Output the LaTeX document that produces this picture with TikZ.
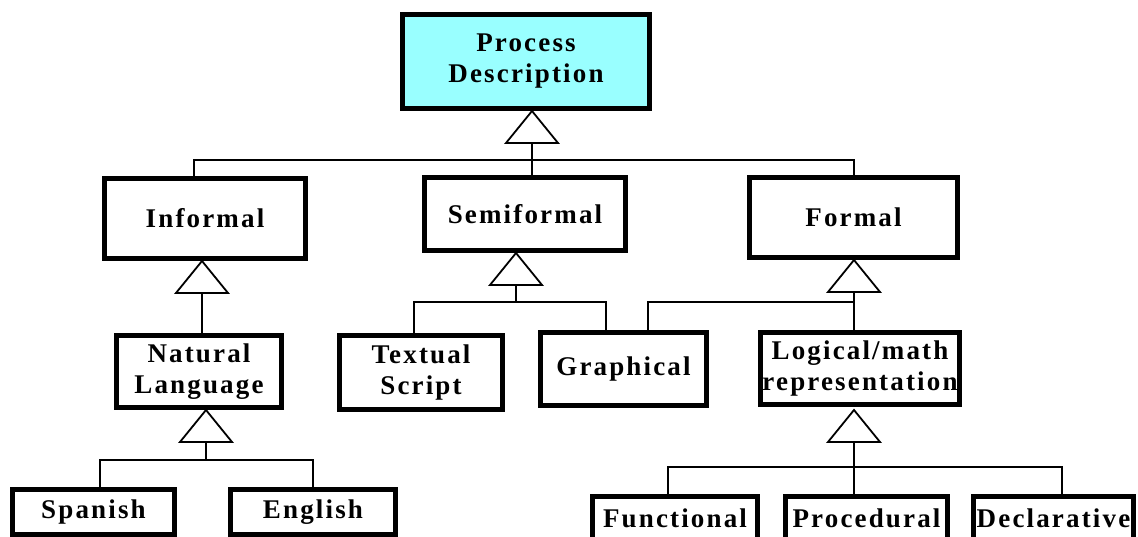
\documentclass[tikz,border=0pt]{standalone}
\usepackage{fontspec}
\setmainfont{Liberation Serif}
\newfontfamily\boxfont[LetterSpace=8]{Liberation Serif}
\usepackage{xcolor}
\usepackage{tikz}
\definecolor{topfill}{RGB}{153,255,255}

\begin{document}
\begin{tikzpicture}[
			x=1pt, y=-1pt,
			box/.style={rectangle, draw, line width=5pt, fill=white, align=center, inner sep=0pt, font=\boxfont\bfseries\fontsize{27}{31}\selectfont},
			leaf/.style={box, text height=31.5pt, text depth=30pt},
			conn/.style={line width=1.8pt},
			gen/.style={line width=1.8pt, fill=white}
			]
			\useasboundingbox (0,0) rectangle (1138,537);
			\clip (0,0) rectangle (1138,537);
			
			% Level 1
			\node[box, fill=topfill, minimum width=247pt, minimum height=94pt] (proc) at (526,61.5) {Process\\Description};
			
			% Level 2
			\node[box, minimum width=201pt, minimum height=80pt] (informal) at (205,218.5) {Informal};
			\node[box, minimum width=201pt, minimum height=73pt] (semi) at (525,214) {Semiformal};
			\node[box, minimum width=208pt, minimum height=80pt] (formal) at (853.5,217.5) {Formal};
			
			% Level 3
			\node[box, minimum width=165pt, minimum height=72pt] (natlang) at (199,371.5) {Natural\\Language};
			\node[box, minimum width=163pt, minimum height=74pt] (textual) at (421,372.5) {Textual\\Script};
			\node[box, minimum width=166pt, minimum height=73pt] (graph) at (623.5,369) {Graphical};
			\node[box, minimum width=199pt, minimum height=72pt] (logical) at (860,368.5) {Logical/math\\representation};
			
			% Level 4
			\node[box, minimum width=162pt, minimum height=45pt] (spanish) at (93.5,512) {Spanish};
			\node[box, minimum width=165pt, minimum height=45pt] (english) at (313,512) {English};
			\node[leaf, minimum width=165pt, anchor=north] (functional) at (675,493.5) {Functional};
			\node[leaf, minimum width=162pt, anchor=north] (procedural) at (866.5,493.5) {Procedural};
			\node[leaf, minimum width=160pt, anchor=north] (declarative) at (1053.5,493.5) {Declarative};
			
			% Generalisation triangles
			\foreach \g/\x/\y in {g1/532/111, g2/202/261, g3/516/253, g4/854/260, g5/206/410, g6/854/410} {
				\coordinate (\g) at (\x,\y);
				\coordinate (\g-base) at (\x,\y+32);
				\draw[gen] (\g) -- ++(-26,32) -- ++(52,0) -- cycle;
			}
			
			% Bus points
			\coordinate (b1l) at (194,160);
			\coordinate (b1r) at (854,160);
			\coordinate (b2l) at (100,460);
			\coordinate (b2r) at (313,460);
			\coordinate (b3l) at (414,302);
			\coordinate (b3r) at (606,302);
			\coordinate (b4) at (648,302);
			\coordinate (b5l) at (668,467);
			\coordinate (b5r) at (1062,467);
			
			% Connectors
			\draw[conn] (g1-base) -- (g1 |- semi.north);
			\draw[conn] (informal.north -| b1l) -- (b1l) -- (b1r) -- (formal.north -| b1r);
			\draw[conn] (g2-base) -- (g2 |- natlang.north);
			\draw[conn] (g5-base) -- (g5 |- b2l);
			\draw[conn] (spanish.north -| b2l) -- (b2l) -- (b2r) -- (english.north);
			\draw[conn] (g3-base) -- (g3 |- b3l);
			\draw[conn] (textual.north -| b3l) -- (b3l) -- (b3r) -- (graph.north -| b3r);
			\draw[conn] (g4-base) -- (g4 |- logical.north);
			\draw[conn] (graph.north -| b4) -- (b4) -- (g4 |- b4);
			\draw[conn] (g6-base) -- (g6 |- procedural.north);
			\draw[conn] (functional.north -| b5l) -- (b5l) -- (b5r) -- (declarative.north -| b5r);
		\end{tikzpicture}
\end{document}
